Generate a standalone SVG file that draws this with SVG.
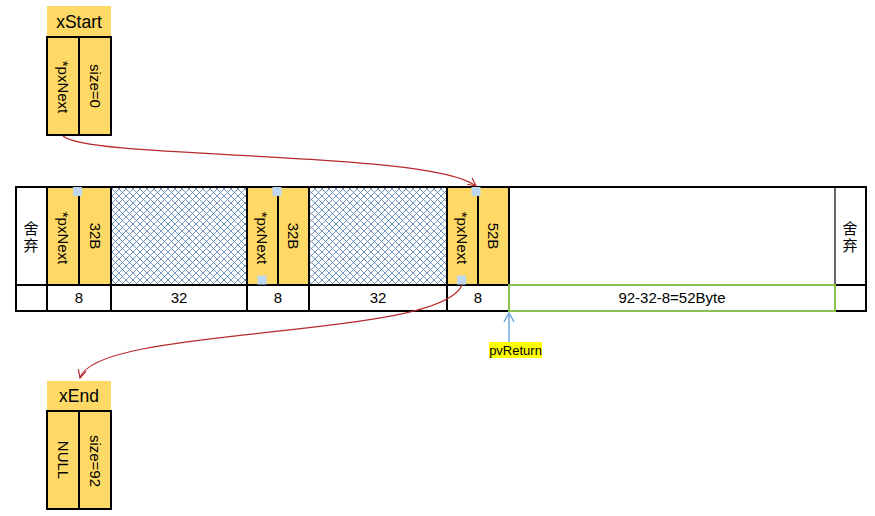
<svg xmlns="http://www.w3.org/2000/svg" width="875" height="516" viewBox="0 0 875 516">
<defs>
<style>
.t{font-family:"Liberation Sans",Arial,sans-serif;font-size:15px;fill:#000;text-anchor:middle}
.h{font-family:"Liberation Sans",Arial,sans-serif;font-size:17.5px;fill:#000;text-anchor:middle}
.c{font-family:"Liberation Sans","Noto Sans CJK SC",sans-serif;font-size:15px;fill:#000;text-anchor:middle}
.r{font-family:"Liberation Sans",Arial,sans-serif;font-size:15px;fill:#000;text-anchor:middle;dominant-baseline:central}
.y{fill:#ffd966}
.b{fill:none;stroke:#000;stroke-width:2}
.sq{fill:#bdd7ee}
.red{fill:none;stroke:#b8292b;stroke-width:1.2}
</style>
<pattern id="hatch" patternUnits="userSpaceOnUse" width="7" height="7">
<rect width="7" height="7" fill="#fff"/>
<path d="M0,0 L7,7 M7,0 L0,7" stroke="#4a7eb0" stroke-width="0.8" fill="none"/>
</pattern>
<marker id="ar" markerUnits="userSpaceOnUse" markerWidth="12" markerHeight="12" refX="9" refY="5" orient="auto">
<path d="M1,1 L9,5 L1,9" fill="none" stroke="#b8292b" stroke-width="1.2"/>
</marker>
<marker id="ab" markerUnits="userSpaceOnUse" markerWidth="14" markerHeight="14" refX="10" refY="6" orient="auto">
<path d="M1,1 L10,6 L1,11" fill="none" stroke="#6fa8dc" stroke-width="1.5"/>
</marker>
</defs>
<rect width="875" height="516" fill="#fff"/>

<g id="xStart">
<rect class="y" x="47" y="6" width="64" height="31"/>
<text class="h" x="79" y="28">xStart</text>
<rect class="y" x="47" y="37" width="64" height="98"/>
<rect class="b" x="47" y="37" width="64" height="98"/>
<line x1="79" y1="37" x2="79" y2="135" stroke="#000" stroke-width="2"/>
<text class="r" transform="rotate(90 63 87)" x="63" y="87">*pxNext</text>
<text class="r" transform="rotate(90 95 86)" x="95" y="86">size=0</text>
</g>

<g id="xEnd">
<rect class="y" x="47" y="381" width="64" height="30"/>
<text class="h" x="79" y="402">xEnd</text>
<rect class="y" x="47" y="411" width="64" height="98"/>
<rect class="b" x="47" y="411" width="64" height="98"/>
<line x1="79" y1="411" x2="79" y2="509" stroke="#000" stroke-width="2"/>
<text class="r" transform="rotate(90 63 460)" x="63" y="460">NULL</text>
<text class="r" transform="rotate(90 95 461)" x="95" y="461">size=92</text>
</g>

<g id="heap">
<rect x="16" y="187" width="850" height="124" fill="#fff"/>
<rect class="y" x="47" y="187" width="64" height="98"/>
<rect x="111" y="187" width="136" height="98" fill="url(#hatch)"/>
<rect class="y" x="247" y="187" width="62" height="98"/>
<rect x="309" y="187" width="138" height="98" fill="url(#hatch)"/>
<rect class="y" x="447" y="187" width="62" height="98"/>
<g stroke="#000" stroke-width="2">
<line x1="16" y1="285" x2="866" y2="285"/>
<line x1="47" y1="187" x2="47" y2="311"/>
<line x1="79" y1="187" x2="79" y2="285"/>
<line x1="111" y1="187" x2="111" y2="311"/>
<line x1="247" y1="187" x2="247" y2="311"/>
<line x1="278" y1="187" x2="278" y2="285"/>
<line x1="309" y1="187" x2="309" y2="311"/>
<line x1="447" y1="187" x2="447" y2="311"/>
<line x1="478" y1="187" x2="478" y2="285"/>
<line x1="509" y1="187" x2="509" y2="311"/>
</g>
<line x1="835" y1="187" x2="835" y2="311" stroke="#000" stroke-width="1.2"/>
<rect class="b" x="16" y="187" width="850" height="124"/>
<rect x="509" y="285" width="326" height="26" fill="none" stroke="#8cc152" stroke-width="2"/>
<text class="c" x="31" y="234">舍</text>
<text class="c" x="31" y="251">弃</text>
<text class="c" x="850" y="234">舍</text>
<text class="c" x="850" y="251">弃</text>
<text class="r" transform="rotate(90 63 238)" x="63" y="238">*pxNext</text>
<text class="r" transform="rotate(90 95 236)" x="95" y="236">32B</text>
<text class="r" transform="rotate(90 262.5 238)" x="262.5" y="238">*pxNext</text>
<text class="r" transform="rotate(90 293.5 236)" x="293.5" y="236">32B</text>
<text class="r" transform="rotate(90 462.5 238)" x="462.5" y="238">*pxNext</text>
<text class="r" transform="rotate(90 493.5 236)" x="493.5" y="236">52B</text>
<text class="t" x="79" y="303">8</text>
<text class="t" x="179" y="303">32</text>
<text class="t" x="278" y="303">8</text>
<text class="t" x="378" y="303">32</text>
<text class="t" x="478" y="303">8</text>
<text class="t" x="672" y="303">92-32-8=52Byte</text>
<rect class="sq" x="73" y="187" width="9" height="9"/>
<rect class="sq" x="272.5" y="187" width="9" height="9"/>
<rect class="sq" x="257.5" y="275.5" width="9" height="9"/>
<rect class="sq" x="471.5" y="187" width="9" height="9"/>
<rect class="sq" x="457" y="275.5" width="9" height="9"/>
</g>

<g id="pvReturn">
<rect x="489" y="342" width="53" height="16" fill="#ffff00"/>
<text x="515.5" y="355" font-family="Liberation Sans, Arial, sans-serif" font-size="13" text-anchor="middle" fill="#000">pvReturn</text>
</g>

<g id="connectors">
<path class="red" d="M63,136 C90,160 430,150 476,186" marker-end="url(#ar)"/>
<path class="red" d="M462,285 C440,340 95,325 80,378" marker-end="url(#ar)"/>
<line x1="509" y1="342" x2="509" y2="313" stroke="#6fa8dc" stroke-width="1.5" marker-end="url(#ab)"/>
</g>
</svg>
